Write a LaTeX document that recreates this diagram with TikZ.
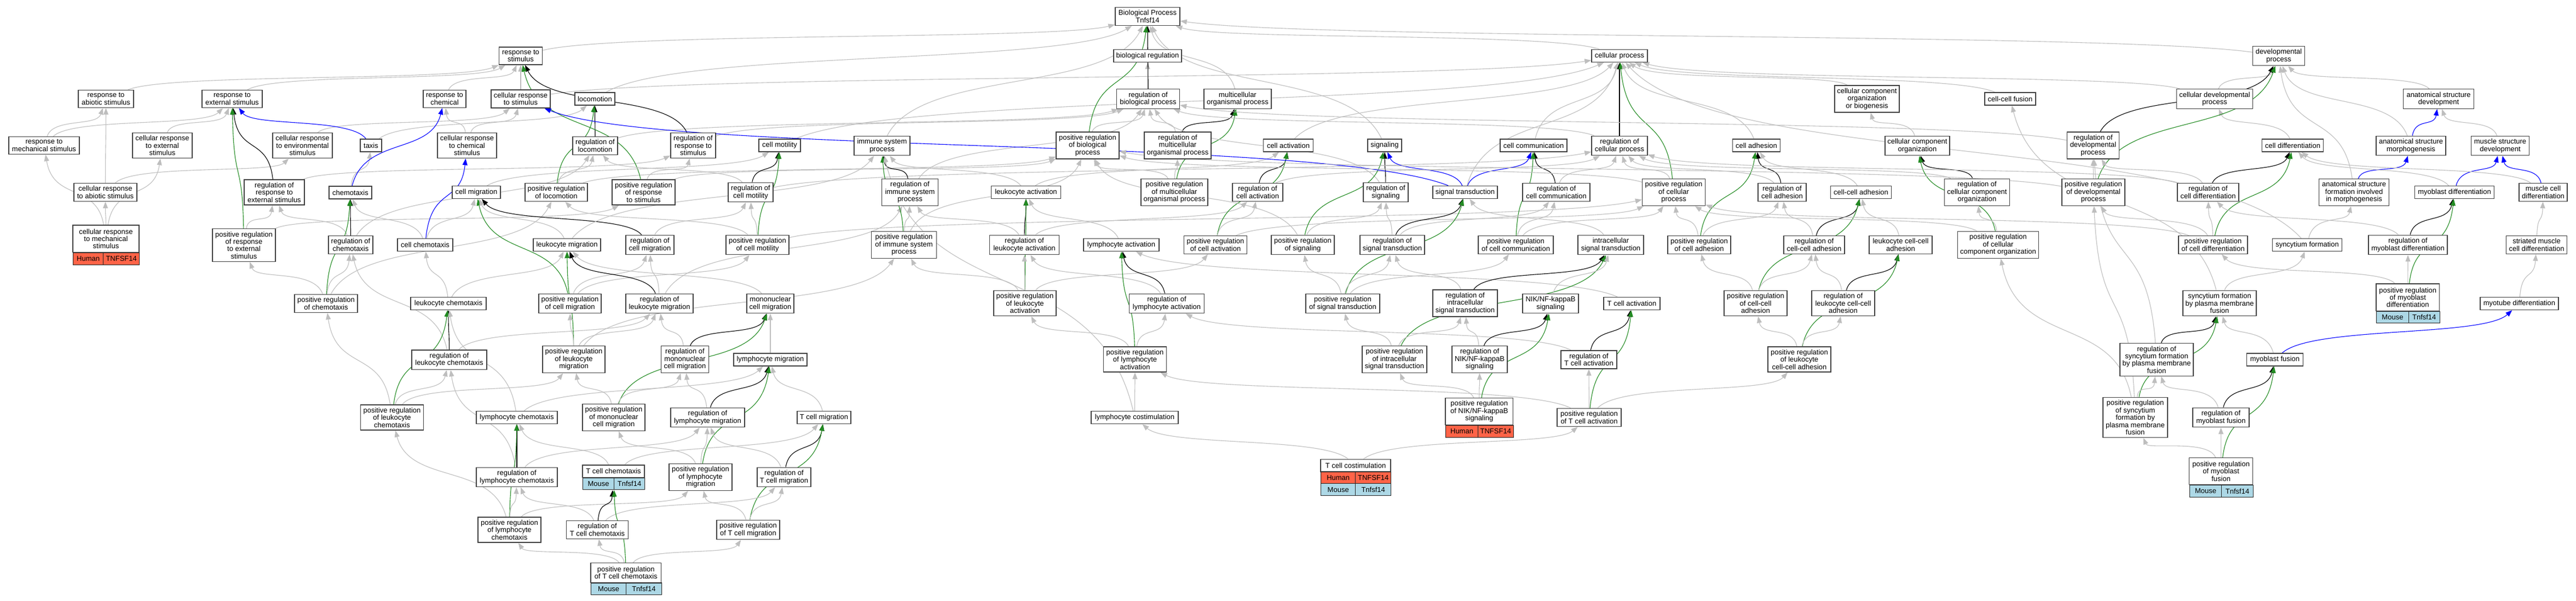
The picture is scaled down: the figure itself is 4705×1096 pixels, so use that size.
\documentclass[tikz,border=0pt]{standalone}
\usepackage{fontspec}
\setmainfont{Liberation Sans}
\usetikzlibrary{arrows.meta,fit,backgrounds,calc}
\definecolor{egray}{RGB}{190,190,190}
\definecolor{egreen}{RGB}{34,139,34}
\definecolor{eblue}{RGB}{0,0,255}
\definecolor{tomatoc}{RGB}{255,99,71}
\definecolor{lblue}{RGB}{173,216,230}
\newcommand\gofont{\fontsize{13}{13.4}\selectfont}
\tikzset{
 bx/.style={draw=black!75, line width=1.4pt, fill=white, align=center, inner xsep=3pt, inner ysep=5pt, minimum height=23pt, font=\gofont},
 hum/.style={draw=black!85, line width=1.4pt, fill=tomatoc, inner sep=0pt, anchor=north west, font=\gofont},
 mou/.style={hum, fill=lblue},
 arrowtip/.style={-{Triangle[length=12pt,width=9pt]}},
 isa/.style={draw=egray, line width=1.1pt, arrowtip},
 reg/.style={draw=black, line width=1.1pt, arrowtip},
 preg/.style={draw=egreen, line width=1.1pt, arrowtip},
 part/.style={draw=eblue, line width=1.1pt, arrowtip},
}
\newcommand\GN[5]{\node[bx,minimum width=#4pt] (#1) at (#2,-#3) {#5};}
\newcommand\edg[3]{\draw[#1] let \p1=(#2), \p2=(#3) in (#2) .. controls ({\x1+0.15*(\x2-\x1)},{\y1+0.6*(\y2-\y1)}) and ({\x2-0.15*(\x2-\x1)},{\y2-0.6*(\y2-\y1)}) .. (#3);}
\newcommand\gE[2]{\edg{isa}{#1}{#2}}
\newcommand\kE[2]{\edg{reg}{#1}{#2}}
\newcommand\pE[2]{\edg{preg}{#1}{#2}}
\newcommand\bE[2]{\edg{part}{#1}{#2}}
\begin{document}
\begin{tikzpicture}[x=1pt,y=1pt]
\useasboundingbox (0,0) rectangle (4705,-1096);
% ---------- nodes ----------
\GN{BP}{2096}{30}{118}{Biological Process\\Tnfsf14}
\GN{respStim}{951}{102}{79}{response to\\stimulus}
\GN{bioReg}{2096}{102}{124}{biological regulation}
\GN{cellProc}{2958}{102}{102}{cellular process}
\GN{devProc}{4162}{102}{95}{developmental\\process}
\GN{respAbio}{193.5}{180.5}{101}{response to\\abiotic stimulus}
\GN{respExt}{424}{180.5}{110}{response to\\external stimulus}
\GN{respChem}{812}{180.5}{78}{response to\\chemical}
\GN{cellRespStim}{951}{180.5}{108}{cellular response\\to stimulus}
\GN{loco}{1086.5}{180.5}{73}{locomotion}
\GN{regBio}{2097}{180.5}{115}{regulation of\\biological process}
\GN{multi}{2260.5}{180.5}{123}{multicellular\\organismal process}
\GN{ccob}{3410}{180.5}{118}{cellular component\\organization\\or biogenesis}
\GN{ccFusion}{3671.5}{180.5}{93}{cell-cell fusion}
\GN{cellDev}{4045}{180.5}{139}{cellular developmental\\process}
\GN{anatDev}{4454}{180.5}{129}{anatomical structure\\development}
\GN{respMech}{80.5}{265.5}{129}{response to\\mechanical stimulus}
\GN{cellRespExt}{296.5}{265.5}{109}{cellular response\\to external\\stimulus}
\GN{cellRespEnv}{552.5}{265.5}{109}{cellular response\\to environmental\\stimulus}
\GN{taxis}{677.5}{265.5}{39}{taxis}
\GN{cellRespChem}{853}{265.5}{108}{cellular response\\to chemical\\stimulus}
\GN{regLoco}{1087}{266}{82}{regulation of\\locomotion}
\GN{regRespStim}{1266}{265.5}{82}{regulation of\\response to\\stimulus}
\GN{cellMot}{1424}{265.5}{76}{cell motility}
\GN{immSys}{1611}{266}{102}{immune system\\process}
\GN{posRegBio}{1986.5}{265.5}{115}{positive regulation\\of biological\\process}
\GN{regMulti}{2151}{265.5}{122}{regulation of\\multicellular\\organismal process}
\GN{cellAct}{2353}{265.5}{91}{cell activation}
\GN{signaling}{2529}{265.5}{62}{signaling}
\GN{cellComm}{2801}{265.5}{122}{cell communication}
\GN{regCellProc}{2958}{266}{102}{regulation of\\cellular process}
\GN{cellAdh}{3208}{265.5}{87}{cell adhesion}
\GN{cco}{3502}{266}{118}{cellular component\\organization}
\GN{regDev}{3823}{265.5}{95}{regulation of\\developmental\\process}
\GN{cellDiff}{4187.5}{265.5}{112}{cell differentiation}
\GN{anatMorph}{4403.5}{266}{127}{anatomical structure\\morphogenesis}
\GN{muscleDev}{4566.5}{266}{106}{muscle structure\\development}
\GN{cellRespAbio}{192.5}{351}{115}{cellular response\\to abiotic stimulus}
\GN{regRespExt}{501}{351}{110}{regulation of\\response to\\external stimulus}
\GN{chemo}{640}{351.5}{78}{chemotaxis}
\GN{cellMig}{870}{351}{88}{cell migration}
\GN{posRegLoco}{1016}{351}{114}{positive regulation\\of locomotion}
\GN{posRegRespStim}{1175.5}{351}{115}{positive regulation\\of response\\to stimulus}
\GN{regCellMot}{1371}{351}{82}{regulation of\\cell motility}
\GN{regImm}{1662}{351}{103}{regulation of\\immune system\\process}
\GN{leukoAct}{1874}{351}{127}{leukocyte activation}
\GN{posRegMulti}{2145}{351}{122}{positive regulation\\of multicellular\\organismal process}
\GN{regCellAct}{2297}{351}{92}{regulation of\\cell activation}
\GN{regSig}{2531}{351}{82}{regulation of\\signaling}
\GN{sigTrans}{2676}{351}{118}{signal transduction}
\GN{regCellComm}{2842.5}{351}{123}{regulation of\\cell communication}
\GN{posRegCellProc}{3057}{351}{115}{positive regulation\\of cellular\\process}
\GN{regCellAdh}{3255}{351}{88}{regulation of\\cell adhesion}
\GN{ccAdh}{3399}{351}{111}{cell-cell adhesion}
\GN{regCCO}{3611}{351}{119}{regulation of\\cellular component\\organization}
\GN{posRegDev}{3823.5}{351}{115}{positive regulation\\of developmental\\process}
\GN{regCellDiff}{4033}{351}{112}{regulation of\\cell differentiation}
\GN{anatForm}{4299.6}{351}{128}{anatomical structure\\formation involved\\in morphogenesis}
\GN{myoDiff}{4483}{351}{145}{myoblast differentiation}
\GN{muscleCellDiff}{4645}{351}{88}{muscle cell\\differentiation}
% gene node: cellular response to mechanical stimulus
\node[bx,minimum width=121pt,minimum height=49.5pt,inner sep=0pt] (cellRespMech) at (193.5,-435.75) {cellular response\\to mechanical\\stimulus};
\node[hum,minimum width=55pt,minimum height=22.5pt] (cellRespMechA) at (133,-460.5) {Human};
\node[hum,minimum width=66pt,minimum height=22.5pt] (cellRespMechB) at (188,-460.5) {TNFSF14};
\GN{posRegRespExt}{445.5}{447.5}{115}{positive regulation\\of response\\to external\\stimulus}
\GN{regChemo}{640.5}{447}{81}{regulation of\\chemotaxis}
\GN{cellChemo}{776.5}{447}{101}{cell chemotaxis}
\GN{leukoMig}{1035.5}{447}{123}{leukocyte migration}
\GN{regCellMig}{1187}{447}{88}{regulation of\\cell migration}
\GN{posRegCellMot}{1383.5}{447}{115}{positive regulation\\of cell motility}
\GN{posRegImm}{1651}{447}{119}{positive regulation\\of immune system\\process}
\GN{regLeukoAct}{1871}{447}{127}{regulation of\\leukocyte activation}
\GN{lymphAct}{2048}{447}{138}{lymphocyte activation}
\GN{posRegCellAct}{2220}{447}{115}{positive regulation\\of cell activation}
\GN{posRegSig}{2379.5}{447}{115}{positive regulation\\of signaling}
\GN{regSigTrans}{2543}{447}{118}{regulation of\\signal transduction}
\GN{posRegCellComm}{2768.5}{447}{137}{positive regulation\\of cell communication}
\GN{intraSig}{2942}{447}{120}{intracellular\\signal transduction}
\GN{posRegCellAdh}{3103.5}{447}{115}{positive regulation\\of cell adhesion}
\GN{regCCAdh}{3313.5}{447}{111}{regulation of\\cell-cell adhesion}
\GN{leukoCCAdh}{3471.5}{447}{115}{leukocyte cell-cell\\adhesion}
\GN{posRegCCO}{3649.5}{447}{148}{positive regulation\\of cellular\\component organization}
\GN{posRegCellDiff}{4042}{447}{126}{positive regulation\\of cell differentiation}
\GN{syncForm}{4214}{447}{127}{syncytium formation}
\GN{regMyoDiff}{4398}{447}{144}{regulation of\\myoblast differentiation}
\GN{striated}{4633}{447}{111}{striated muscle\\cell differentiation}
\GN{posRegChemo}{595.5}{554}{115}{positive regulation\\of chemotaxis}
\GN{leukoChemo}{819}{554}{138}{leukocyte chemotaxis}
\GN{posRegCellMig}{1041}{554}{114}{positive regulation\\of cell migration}
\GN{regLeukoMig}{1204.5}{554}{123}{regulation of\\leukocyte migration}
\GN{monoMig}{1407}{554}{86}{mononuclear\\cell migration}
\GN{posRegLeukoAct}{1872}{553.5}{114}{positive regulation\\of leukocyte\\activation}
\GN{regLymphAct}{2131}{554}{137}{regulation of\\lymphocyte activation}
\GN{posRegSigTrans}{2452.5}{554}{135}{positive regulation\\of signal transduction}
\GN{regIntraSig}{2676}{553.5}{118}{regulation of\\intracellular\\signal transduction}
\GN{NIK}{2832}{554}{102}{NIK/NF-kappaB\\signaling}
\GN{TcellAct}{2980.5}{554}{103}{T cell activation}
\GN{posRegCCAdh}{3206.5}{553.5}{115}{positive regulation\\of cell-cell\\adhesion}
\GN{regLeukoCCAdh}{3366.5}{553.5}{115}{regulation of\\leukocyte cell-cell\\adhesion}
\GN{syncFusion}{4054}{553.5}{134}{syncytium formation\\by plasma membrane\\fusion}
% gene node: positive regulation of myoblast differentiation
\node[bx,minimum width=115.5pt,minimum height=49.7pt,inner sep=0pt] (posRegMyoDiff) at (4397.75,-542.85) {positive regulation\\of myoblast\\differentiation};
\node[mou,minimum width=58.5pt,minimum height=21.3pt] (posRegMyoDiffA) at (4340,-567.7) {Mouse};
\node[mou,minimum width=57pt,minimum height=21.3pt] (posRegMyoDiffB) at (4398.5,-567.7) {Tnfsf14};
\GN{myotube}{4601.5}{554}{143}{myotube differentiation}
\GN{regLeukoChemo}{820.5}{656.7}{137}{regulation of\\leukocyte chemotaxis}
\GN{posRegLeukoMig}{1048}{656}{114}{positive regulation\\of leukocyte\\migration}
\GN{regMonoMig}{1251}{656}{87}{regulation of\\mononuclear\\cell migration}
\GN{lymphMig}{1407}{656.5}{134}{lymphocyte migration}
\GN{posRegLymphAct}{2073}{656}{115}{positive regulation\\of lymphocyte\\activation}
\GN{posRegIntraSig}{2547}{656}{118}{positive regulation\\of intracellular\\signal transduction}
\GN{regNIK}{2702.5}{656}{101}{regulation of\\NIK/NF-kappaB\\signaling}
\GN{regTcellAct}{2902}{656.5}{102}{regulation of\\T cell activation}
\GN{posRegLeukoCCAdh}{3286.5}{656}{115}{positive regulation\\of leukocyte\\cell-cell adhesion}
\GN{regSyncFusion}{3939}{656.5}{134}{regulation of\\syncytium formation\\by plasma membrane\\fusion}
\GN{myoFusion}{4155}{656.5}{103}{myoblast fusion}
\GN{posRegLeukoChemo}{716}{762}{115}{positive regulation\\of leukocyte\\chemotaxis}
\GN{lymphChemo}{944}{762}{148}{lymphocyte chemotaxis}
\GN{posRegMonoMig}{1121}{762}{114}{positive regulation\\of mononuclear\\cell migration}
\GN{regLymphMig}{1292.5}{762}{135}{regulation of\\lymphocyte migration}
\GN{TcellMig}{1505}{762}{98}{T cell migration}
\GN{lymphCostim}{2072.5}{762}{159}{lymphocyte costimulation}
% gene node: positive regulation of NIK/NF-kappaB signaling
\node[bx,minimum width=123.5pt,minimum height=49pt,inner sep=0pt] (posRegNIK) at (2701.75,-751) {positive regulation\\of NIK/NF-kappaB\\signaling};
\node[hum,minimum width=58.7pt,minimum height=22pt] (posRegNIKA) at (2640,-775.5) {Human};
\node[hum,minimum width=64.8pt,minimum height=22pt] (posRegNIKB) at (2698.7,-775.5) {TNFSF14};
\GN{posRegTcellAct}{2902.5}{762}{117}{positive regulation\\of T cell activation}
\GN{posRegSyncFusion}{3900}{762}{118}{positive regulation\\of syncytium\\formation by\\plasma membrane\\fusion}
\GN{regMyoFusion}{4056.5}{762}{103}{regulation of\\myoblast fusion}
\GN{regLymphChemo}{944}{871}{148}{regulation of\\lymphocyte chemotaxis}
% gene node: T cell chemotaxis
\node[bx,minimum width=113pt,minimum height=22.6pt,inner sep=0pt] (TcellChemoT) at (1120.5,-860.3) {T cell chemotaxis};
\node[mou,minimum width=56.8pt,minimum height=21.4pt] (TcellChemoA) at (1064,-871.6) {Mouse};
\node[mou,minimum width=56.2pt,minimum height=21.4pt] (TcellChemoB) at (1120.8,-871.6) {Tnfsf14};
\node[fit=(TcellChemoT)(TcellChemoA)(TcellChemoB),inner sep=0pt] (TcellChemo) {};
\GN{posRegLymphMig}{1279.5}{871}{115}{positive regulation\\of lymphocyte\\migration}
\GN{regTcellMig}{1432}{871}{98}{regulation of\\T cell migration}
% gene node: T cell costimulation
\node[bx,minimum width=128pt,minimum height=22.4pt,inner sep=0pt] (TcellCostim) at (2476,-849.8) {T cell costimulation};
\node[hum,minimum width=63pt,minimum height=21pt] (TcellCostimA) at (2412,-861) {Human};
\node[hum,minimum width=65pt,minimum height=21pt] (TcellCostimB) at (2475,-861) {TNFSF14};
\node[mou,minimum width=63pt,minimum height=22pt] (TcellCostimC) at (2412,-882) {Mouse};
\node[mou,minimum width=65pt,minimum height=22pt] (TcellCostimD) at (2475,-882) {Tnfsf14};
% gene node: positive regulation of myoblast fusion
\node[bx,minimum width=116pt,minimum height=49pt,inner sep=0pt] (posRegMyoFusion) at (4056.6,-860.2) {positive regulation\\of myoblast\\fusion};
\node[mou,minimum width=58.4pt,minimum height=22.3pt] (posRegMyoFusionA) at (3998.6,-884.7) {Mouse};
\node[mou,minimum width=57.6pt,minimum height=22.3pt] (posRegMyoFusionB) at (4057,-884.7) {Tnfsf14};
\GN{posRegLymphChemo}{930.5}{967}{115}{positive regulation\\of lymphocyte\\chemotaxis}
\GN{regTcellChemo}{1091}{967}{113}{regulation of\\T cell chemotaxis}
\GN{posRegTcellMig}{1366.5}{967}{115}{positive regulation\\of T cell migration}
% gene node: positive regulation of T cell chemotaxis
\node[bx,minimum width=128.5pt,minimum height=35.8pt,inner sep=0pt] (posRegTcellChemo) at (1143.25,-1045.5) {positive regulation\\of T cell chemotaxis};
\node[mou,minimum width=64pt,minimum height=21.6pt] (posRegTcellChemoA) at (1079,-1063.4) {Mouse};
\node[mou,minimum width=64.5pt,minimum height=21.6pt] (posRegTcellChemoB) at (1143,-1063.4) {Tnfsf14};
% ---------- edges ----------
\begin{pgfonlayer}{background}
\fill[white] (0,0) rectangle (4705,-1096);
% response branch
\gE{respAbio}{respStim}
\gE{respExt}{respStim}
\gE{respChem}{respStim}
\gE{cellRespStim}{respStim}
\gE{respStim}{BP}
\gE{cellRespStim}{cellProc}
\gE{respMech}{respAbio}
\gE{respMech}{respExt}
\gE{cellRespExt}{respExt}
\gE{cellRespEnv}{cellRespStim}
\gE{cellRespChem}{cellRespStim}
\gE{cellRespChem}{respChem}
\bE{taxis}{respExt}
\gE{taxis}{loco}
\gE{cellRespAbio}{respAbio}
\gE{cellRespAbio}{cellRespEnv}
\gE{cellRespMech}{cellRespAbio}
\gE{cellRespMech}{respMech}
\gE{cellRespMech}{cellRespExt}
\kE{regRespExt}{respExt}
\gE{regRespExt}{regRespStim}
\pE{posRegRespExt}{respExt}
\gE{posRegRespExt}{regRespExt}
\gE{posRegRespExt}{posRegRespStim}
\gE{chemo}{taxis}
\bE{chemo}{respChem}
\kE{regChemo}{chemo}
\gE{regChemo}{regRespExt}
\gE{regChemo}{regLoco}
\gE{cellChemo}{chemo}
\gE{cellChemo}{cellMig}
\bE{cellChemo}{cellRespChem}
\pE{posRegChemo}{chemo}
\gE{posRegChemo}{regChemo}
\gE{posRegChemo}{posRegRespExt}
\gE{posRegChemo}{posRegLoco}
\gE{leukoChemo}{cellChemo}
\gE{leukoChemo}{leukoMig}
\kE{regLeukoChemo}{leukoChemo}
\gE{regLeukoChemo}{regChemo}
\gE{regLeukoChemo}{regLeukoMig}
\pE{posRegLeukoChemo}{leukoChemo}
\gE{posRegLeukoChemo}{posRegChemo}
\gE{posRegLeukoChemo}{regLeukoChemo}
\gE{posRegLeukoChemo}{posRegLeukoMig}
% locomotion / migration
\gE{loco}{BP}
\kE{regLoco}{loco}
\gE{regLoco}{regBio}
\pE{posRegLoco}{loco}
\gE{posRegLoco}{regLoco}
\gE{posRegLoco}{posRegBio}
\kE{regRespStim}{respStim}
\gE{regRespStim}{regBio}
\pE{posRegRespStim}{respStim}
\gE{posRegRespStim}{regRespStim}
\gE{posRegRespStim}{posRegBio}
\gE{cellMot}{cellProc}
\gE{cellMig}{cellMot}
\kE{regCellMot}{cellMot}
\gE{regCellMot}{regLoco}
\gE{regCellMot}{regCellProc}
\pE{posRegCellMot}{cellMot}
\gE{posRegCellMot}{regCellMot}
\gE{posRegCellMot}{posRegLoco}
\gE{posRegCellMot}{posRegCellProc}
\kE{regCellMig}{cellMig}
\gE{regCellMig}{regCellMot}
\pE{posRegCellMig}{cellMig}
\gE{posRegCellMig}{regCellMig}
\gE{posRegCellMig}{posRegCellMot}
\gE{leukoMig}{cellMig}
\gE{leukoMig}{immSys}
\kE{regLeukoMig}{leukoMig}
\gE{regLeukoMig}{regCellMig}
\gE{regLeukoMig}{regImm}
\pE{posRegLeukoMig}{leukoMig}
\gE{posRegLeukoMig}{regLeukoMig}
\gE{posRegLeukoMig}{posRegCellMig}
\gE{posRegLeukoMig}{posRegImm}
\gE{monoMig}{leukoMig}
\kE{regMonoMig}{monoMig}
\gE{regMonoMig}{regLeukoMig}
\pE{posRegMonoMig}{monoMig}
\gE{posRegMonoMig}{regMonoMig}
\gE{posRegMonoMig}{posRegLeukoMig}
\gE{lymphMig}{monoMig}
\kE{regLymphMig}{lymphMig}
\gE{regLymphMig}{regMonoMig}
\pE{posRegLymphMig}{lymphMig}
\gE{posRegLymphMig}{regLymphMig}
\gE{posRegLymphMig}{posRegMonoMig}
\gE{TcellMig}{lymphMig}
\kE{regTcellMig}{TcellMig}
\gE{regTcellMig}{regLymphMig}
\pE{posRegTcellMig}{TcellMig}
\gE{posRegTcellMig}{regTcellMig}
\gE{posRegTcellMig}{posRegLymphMig}
\gE{lymphChemo}{leukoChemo}
\gE{lymphChemo}{lymphMig}
\kE{regLymphChemo}{lymphChemo}
\gE{regLymphChemo}{regLeukoChemo}
\gE{regLymphChemo}{regLymphMig}
\pE{posRegLymphChemo}{lymphChemo}
\gE{posRegLymphChemo}{regLymphChemo}
\gE{posRegLymphChemo}{posRegLeukoChemo}
\gE{posRegLymphChemo}{posRegLymphMig}
\gE{TcellChemo}{lymphChemo}
\gE{TcellChemo}{TcellMig}
\kE{regTcellChemo}{TcellChemo}
\gE{regTcellChemo}{regLymphChemo}
\gE{regTcellChemo}{regTcellMig}
\pE{posRegTcellChemo}{TcellChemo}
\gE{posRegTcellChemo}{regTcellChemo}
\gE{posRegTcellChemo}{posRegLymphChemo}
\gE{posRegTcellChemo}{posRegTcellMig}
% immune
\gE{immSys}{BP}
\kE{regImm}{immSys}
\gE{regImm}{regBio}
\pE{posRegImm}{immSys}
\gE{posRegImm}{regImm}
\gE{posRegImm}{posRegBio}
\gE{leukoAct}{cellAct}
\gE{leukoAct}{immSys}
\kE{regLeukoAct}{leukoAct}
\gE{regLeukoAct}{regImm}
\gE{regLeukoAct}{regCellAct}
\pE{posRegLeukoAct}{leukoAct}
\gE{posRegLeukoAct}{regLeukoAct}
\gE{posRegLeukoAct}{posRegImm}
\gE{posRegLeukoAct}{posRegCellAct}
\gE{lymphAct}{leukoAct}
\kE{regLymphAct}{lymphAct}
\gE{regLymphAct}{regLeukoAct}
\pE{posRegLymphAct}{lymphAct}
\gE{posRegLymphAct}{regLymphAct}
\gE{posRegLymphAct}{posRegLeukoAct}
\gE{lymphCostim}{posRegLymphAct}
\gE{lymphCostim}{immSys}
\gE{TcellCostim}{lymphCostim}
\gE{TcellCostim}{posRegTcellAct}
\gE{TcellAct}{lymphAct}
\kE{regTcellAct}{TcellAct}
\gE{regTcellAct}{regLymphAct}
\pE{posRegTcellAct}{TcellAct}
\gE{posRegTcellAct}{regTcellAct}
\gE{posRegTcellAct}{posRegLymphAct}
\gE{posRegTcellAct}{posRegLeukoCCAdh}
\gE{cellAct}{cellProc}
\kE{regCellAct}{cellAct}
\gE{regCellAct}{regCellProc}
\pE{posRegCellAct}{cellAct}
\gE{posRegCellAct}{regCellAct}
\gE{posRegCellAct}{posRegCellProc}
% biological regulation
\gE{bioReg}{BP}
\gE{regBio}{bioReg}
\kE{regBio}{BP}
\pE{posRegBio}{BP}
\gE{posRegBio}{regBio}
\gE{multi}{BP}
\kE{regMulti}{multi}
\gE{regMulti}{regBio}
\pE{posRegMulti}{multi}
\gE{posRegMulti}{regMulti}
\gE{posRegMulti}{posRegBio}
\gE{cellProc}{BP}
\gE{devProc}{BP}
% signaling
\gE{signaling}{BP}
\kE{regSig}{signaling}
\gE{regSig}{regBio}
\pE{posRegSig}{signaling}
\gE{posRegSig}{regSig}
\gE{posRegSig}{posRegBio}
\bE{sigTrans}{signaling}
\bE{sigTrans}{cellComm}
\bE{sigTrans}{cellRespStim}
\gE{sigTrans}{cellProc}
\gE{cellComm}{cellProc}
\kE{regCellComm}{cellComm}
\gE{regCellComm}{regCellProc}
\pE{posRegCellComm}{cellComm}
\gE{posRegCellComm}{regCellComm}
\gE{posRegCellComm}{posRegCellProc}
\kE{regSigTrans}{sigTrans}
\gE{regSigTrans}{regSig}
\gE{regSigTrans}{regCellComm}
\pE{posRegSigTrans}{sigTrans}
\gE{posRegSigTrans}{regSigTrans}
\gE{posRegSigTrans}{posRegSig}
\gE{posRegSigTrans}{posRegCellComm}
\gE{intraSig}{sigTrans}
\kE{regIntraSig}{intraSig}
\gE{regIntraSig}{regSigTrans}
\pE{posRegIntraSig}{intraSig}
\gE{posRegIntraSig}{regIntraSig}
\gE{posRegIntraSig}{posRegSigTrans}
\gE{NIK}{intraSig}
\kE{regNIK}{NIK}
\gE{regNIK}{regIntraSig}
\pE{posRegNIK}{NIK}
\gE{posRegNIK}{regNIK}
\gE{posRegNIK}{posRegIntraSig}
\kE{regCellProc}{cellProc}
\gE{regCellProc}{regBio}
\pE{posRegCellProc}{cellProc}
\gE{posRegCellProc}{regCellProc}
\gE{posRegCellProc}{posRegBio}
% adhesion
\gE{cellAdh}{cellProc}
\kE{regCellAdh}{cellAdh}
\gE{regCellAdh}{regCellProc}
\pE{posRegCellAdh}{cellAdh}
\gE{posRegCellAdh}{regCellAdh}
\gE{posRegCellAdh}{posRegCellProc}
\gE{ccAdh}{cellAdh}
\kE{regCCAdh}{ccAdh}
\gE{regCCAdh}{regCellAdh}
\pE{posRegCCAdh}{ccAdh}
\gE{posRegCCAdh}{regCCAdh}
\gE{posRegCCAdh}{posRegCellAdh}
\gE{leukoCCAdh}{ccAdh}
\kE{regLeukoCCAdh}{leukoCCAdh}
\gE{regLeukoCCAdh}{regCCAdh}
\pE{posRegLeukoCCAdh}{leukoCCAdh}
\gE{posRegLeukoCCAdh}{regLeukoCCAdh}
\gE{posRegLeukoCCAdh}{posRegCCAdh}
% component organization
\gE{ccob}{cellProc}
\gE{cco}{ccob}
\kE{regCCO}{cco}
\gE{regCCO}{regCellProc}
\pE{posRegCCO}{cco}
\gE{posRegCCO}{regCCO}
\gE{posRegCCO}{posRegCellProc}
\gE{ccFusion}{cellProc}
\gE{syncFusion}{ccFusion}
% development
\gE{cellDev}{devProc}
\gE{cellDev}{cellProc}
\gE{anatDev}{devProc}
\bE{anatMorph}{anatDev}
\gE{anatMorph}{devProc}
\gE{muscleDev}{anatDev}
\gE{cellDiff}{cellDev}
\kE{regDev}{devProc}
\gE{regDev}{regBio}
\pE{posRegDev}{devProc}
\gE{posRegDev}{regDev}
\gE{posRegDev}{posRegBio}
\kE{regCellDiff}{cellDiff}
\gE{regCellDiff}{regDev}
\gE{regCellDiff}{regCellProc}
\pE{posRegCellDiff}{cellDiff}
\gE{posRegCellDiff}{regCellDiff}
\gE{posRegCellDiff}{posRegDev}
\gE{posRegCellDiff}{posRegCellProc}
\bE{anatForm}{anatMorph}
\gE{anatForm}{devProc}
\bE{myoDiff}{muscleDev}
\gE{myoDiff}{cellDiff}
\bE{muscleCellDiff}{muscleDev}
\gE{muscleCellDiff}{cellDiff}
\gE{syncForm}{anatForm}
\gE{syncForm}{cellProc}
\kE{regMyoDiff}{myoDiff}
\gE{regMyoDiff}{regCellDiff}
\pE{posRegMyoDiff}{myoDiff}
\gE{posRegMyoDiff}{regMyoDiff}
\gE{posRegMyoDiff}{posRegCellDiff}
\gE{striated}{muscleCellDiff}
\gE{myotube}{striated}
\gE{syncFusion}{syncForm}
\kE{regSyncFusion}{syncFusion}
\gE{regSyncFusion}{regDev}
\pE{posRegSyncFusion}{syncFusion}
\gE{posRegSyncFusion}{regSyncFusion}
\gE{posRegSyncFusion}{posRegDev}
\gE{posRegSyncFusion}{posRegCCO}
\gE{myoFusion}{syncFusion}
\bE{myoFusion}{myotube}
\kE{regMyoFusion}{myoFusion}
\gE{regMyoFusion}{regSyncFusion}
\pE{posRegMyoFusion}{myoFusion}
\gE{posRegMyoFusion}{regMyoFusion}
\gE{posRegMyoFusion}{posRegSyncFusion}
\end{pgfonlayer}
\end{tikzpicture}
\end{document}
